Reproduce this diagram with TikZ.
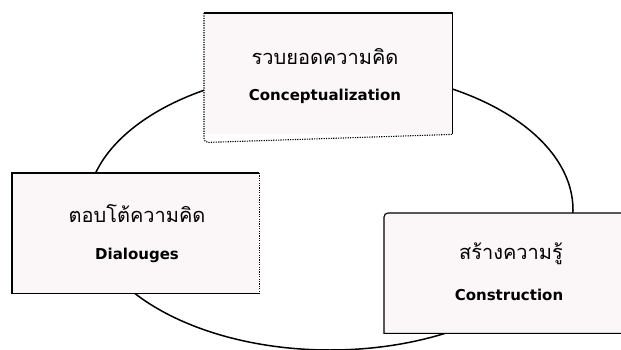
\documentclass[tikz,border=0pt]{standalone}
\usepackage{fontspec}
\newfontfamily\thaifont[Script=Thai]{Loma}
\newfontfamily\labelfont{DejaVu Sans}
\begin{document}
\begin{tikzpicture}[x=1pt,y=-1pt,
  cyclepath/.style={line width=1.5pt,black},
  boxfill/.style={fill=boxpink,draw=none,inner sep=0pt,anchor=north west},
  solidedge/.style={line width=1.1pt,black},
  dotedge/.style={line width=1.1pt,black,dash pattern=on 1.2pt off 1.2pt},
  thaitext/.style={font=\thaifont\fontsize{20}{24}\selectfont,inner sep=0pt},
  engtext/.style={font=\labelfont\bfseries\fontsize{15}{18}\selectfont,inner sep=0pt}]
\definecolor{boxpink}{RGB}{251,246,248}
\useasboundingbox (0,0) rectangle (621,350);
\clip (0,0) rectangle (621,350);
\fill[white] (0,0) rectangle (621,350);

% the cycle joining the three stages
\draw[cyclepath] (330,210) ellipse [x radius=243, y radius=140];

% stage boxes
\node[boxfill,minimum width=248pt,minimum height=121pt] (concept) at (204,13) {};
\node[boxfill,minimum width=247pt,minimum height=120pt] (dialog) at (12,173) {};
\node[boxfill,minimum width=250pt,minimum height=120pt] (construct) at (384,213) {};

% box outlines
\draw[solidedge] (concept.south east) -- (concept.north east) -- (concept.north west);
\draw[dotedge] (concept.north west) -- ([yshift=-4pt]concept.south west)
  arc[start angle=180,end angle=270,radius=4pt] -- (concept.south east);
\draw[solidedge] (dialog.north east) -- (dialog.north west) -- (dialog.south west) -- (dialog.south east);
\draw[dotedge] (dialog.north east) -- (dialog.south east);
\draw[solidedge] (construct.north east) -- ([xshift=4pt]construct.north west)
  arc[start angle=90,end angle=180,radius=4pt] -- (construct.south west) -- (construct.south east);

% labels
\node[thaitext] (conceptTh) at (325,57) {รวบยอดความคิด};
\node[engtext] (conceptEn) at (325,96) {Conceptualization};
\node[thaitext] (dialogTh) at (137,214) {ตอบโต้ความคิด};
\node[engtext] (dialogEn) at (137,255) {Dialouges};
\node[thaitext] (constructTh) at (511,254) {สร้างความรู้};
\node[engtext] (constructEn) at (509,295) {Construction};
\end{tikzpicture}
\end{document}
